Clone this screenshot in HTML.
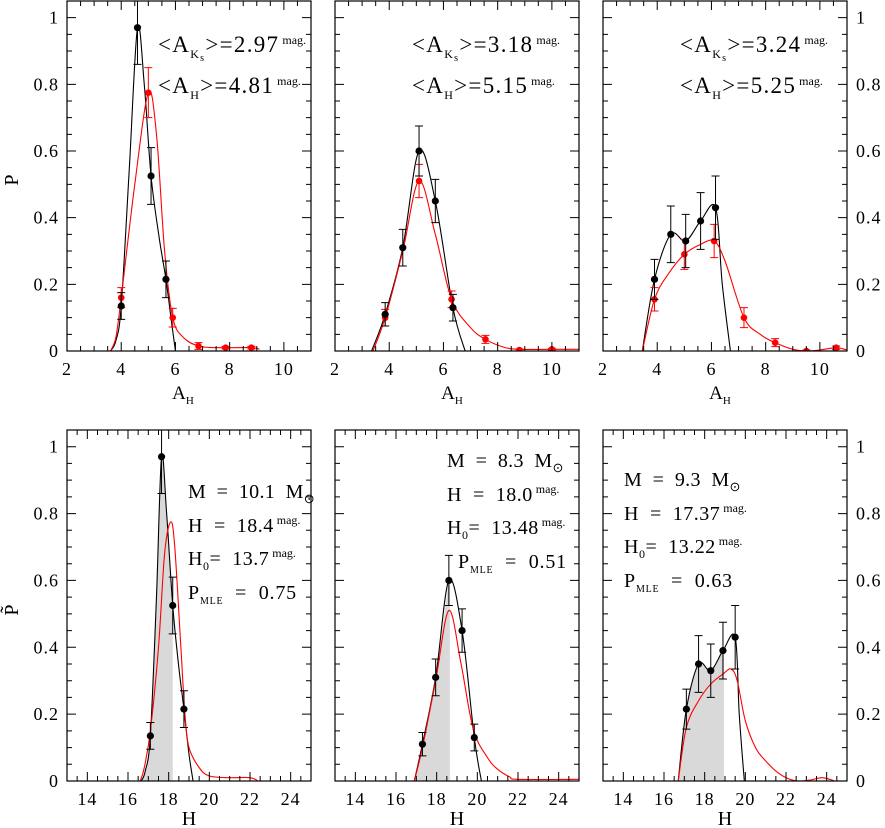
<!DOCTYPE html>
<html><head><meta charset="utf-8"><style>
body{margin:0;background:#fff;}
svg{display:block;font-family:"Liberation Serif",serif;}
</style></head><body>
<svg id="fig" width="885" height="828" viewBox="0 0 885 828" xmlns="http://www.w3.org/2000/svg"></svg>
<script>
// ---- data ----
const p1BlackX=[4.0,4.6,5.1,5.65]; const p1BlackY=[0.135,0.97,0.525,0.215]; const p1BlackE=[0.04,0.11,0.085,0.055];
const p1RedX=[4.0,5.0,5.9,6.85,7.85,8.8]; const p1RedY=[0.16,0.775,0.1,0.015,0.01,0.01]; const p1RedE=[0.03,0.075,0.028,0.01,0.004,0.004];
const p1BlackCurveX=[3.6,3.8,4.0,4.3,4.6,4.85,5.1,5.4,5.65,5.85,6.0]; const p1BlackCurveY=[0,0.03,0.135,0.55,0.97,0.8,0.525,0.34,0.215,0.09,0];
const p1RedCurveX=[3.6,3.8,4.0,4.5,5.0,5.3,5.6,5.9,6.3,6.85,7.5,8.8,9.1]; const p1RedCurveY=[0,0.04,0.16,0.5,0.775,0.65,0.3,0.1,0.04,0.015,0.01,0.01,0.005];

const p2BlackX=[3.85,4.5,5.1,5.7,6.35]; const p2BlackY=[0.11,0.31,0.6,0.45,0.13]; const p2BlackE=[0.035,0.055,0.075,0.065,0.04];
const p2RedX=[3.85,5.1,6.3,7.55,8.8,10.0]; const p2RedY=[0.1,0.51,0.155,0.035,0.003,0.005]; const p2RedE=[0.025,0.05,0.025,0.012,0.003,0.003];
const p2BlackCurveX=[3.35,3.85,4.5,5.1,5.7,6.35,6.8]; const p2BlackCurveY=[0,0.11,0.31,0.6,0.45,0.13,0];
const p2RedCurveX=[3.4,3.85,4.5,5.1,5.7,6.3,7.0,7.55,8.2,8.8,10.0,11.0]; const p2RedCurveY=[0,0.1,0.3,0.51,0.35,0.155,0.07,0.035,0.012,0.005,0.005,0.005];

const p3BlackX=[3.9,4.5,5.05,5.6,6.15]; const p3BlackY=[0.215,0.35,0.33,0.39,0.43]; const p3BlackE=[0.06,0.085,0.08,0.085,0.095];
const p3RedX=[3.9,5.0,6.1,7.2,8.35,9.5,10.6]; const p3RedY=[0.155,0.29,0.33,0.1,0.025,0.0,0.01]; const p3RedE=[0.035,0.045,0.05,0.03,0.012,0.003,0.005];
const p3BlackCurveX=[3.45,3.9,4.5,5.05,5.6,6.15,6.4,6.7]; const p3BlackCurveY=[0,0.215,0.35,0.33,0.39,0.43,0.2,0];
const p3RedCurveX=[3.45,3.9,4.4,5.0,5.6,6.1,6.5,7.2,7.8,8.35,9.0,9.5,10.0,10.6,11.0]; const p3RedCurveY=[0,0.155,0.23,0.29,0.32,0.33,0.27,0.1,0.05,0.025,0.005,0,0.003,0.01,0.003];

const b1BlackX=[17.1,17.65,18.2,18.75]; const b1BlackY=[0.135,0.97,0.525,0.215]; const b1BlackE=[0.04,0.11,0.085,0.055];
const b1BlackCurveX=[16.65,16.85,17.1,17.4,17.65,17.9,18.2,18.5,18.75,19.0,19.2]; const b1BlackCurveY=[0,0.03,0.135,0.55,0.97,0.8,0.525,0.34,0.215,0.08,0];
const b1RedCurveX=[16.6,16.8,17.1,17.5,17.8,18.1,18.3,18.6,18.8,19.0,19.5,20.0,21.0,22.0,22.4]; const b1RedCurveY=[0,0.04,0.15,0.4,0.68,0.775,0.7,0.4,0.2,0.1,0.04,0.015,0.01,0.01,0];
const b1Shade=18.2;

const b2BlackX=[17.3,17.95,18.6,19.25,19.85]; const b2BlackY=[0.11,0.31,0.6,0.45,0.13]; const b2BlackE=[0.035,0.055,0.075,0.065,0.04];
const b2BlackCurveX=[16.9,17.3,17.95,18.6,19.25,19.85,20.2]; const b2BlackCurveY=[0,0.11,0.31,0.6,0.45,0.13,0];
const b2RedCurveX=[16.9,17.3,17.95,18.6,19.2,19.8,20.5,21.0,21.6,22.0,25.0]; const b2RedCurveY=[0,0.1,0.3,0.51,0.35,0.155,0.07,0.035,0.012,0.005,0.005];
const b2Shade=18.65;

const b3BlackX=[17.1,17.7,18.3,18.9,19.5]; const b3BlackY=[0.215,0.35,0.33,0.39,0.43]; const b3BlackE=[0.06,0.085,0.08,0.085,0.095];
const b3BlackCurveX=[16.7,17.1,17.7,18.3,18.9,19.5,19.7,19.95]; const b3BlackCurveY=[0,0.215,0.35,0.33,0.39,0.43,0.2,0];
const b3RedCurveX=[16.7,17.1,17.7,18.3,18.9,19.3,19.6,20.0,20.5,21.0,21.6,22.2,22.7,23.2,23.8,24.4]; const b3RedCurveY=[0,0.16,0.24,0.29,0.32,0.335,0.3,0.18,0.1,0.06,0.025,0.005,0,0.003,0.01,0];
const b3Shade=18.95;

const yTickLabels=["0","0.2","0.4","0.6","0.8","1"];
const topXTicks=["2","4","6","8","10"];
const botXTicks=["14","16","18","20","22","24"];

// ---- drawing ----
const NS="http://www.w3.org/2000/svg";
const svg=document.getElementById('fig');
function mk(tag,attrs,parent){const e=document.createElementNS(NS,tag);for(const k in attrs)e.setAttribute(k,attrs[k]);(parent||svg).appendChild(e);return e;}
function smooth(pts){
  let d="M"+pts[0][0].toFixed(2)+","+pts[0][1].toFixed(2);
  for(let i=0;i<pts.length-1;i++){
    const p0=pts[Math.max(0,i-1)],p1=pts[i],p2=pts[i+1],p3=pts[Math.min(pts.length-1,i+2)];
    const c1=[p1[0]+(p2[0]-p0[0])/6,p1[1]+(p2[1]-p0[1])/6];
    const c2=[p2[0]-(p3[0]-p1[0])/6,p2[1]-(p3[1]-p1[1])/6];
    d+=" C"+c1.map(v=>v.toFixed(2))+" "+c2.map(v=>v.toFixed(2))+" "+p2[0].toFixed(2)+","+p2[1].toFixed(2);
  }
  return d;
}
function panel(cfg){
  const {L,T,R,B,xmin,xmax,ymax}=cfg;
  const sx=v=>L+(v-xmin)/(xmax-xmin)*(R-L);
  const sy=v=>B-v/ymax*(B-T);
  const g=mk('g',{});
  
  
  const clipId='c'+cfg.name;
  const cp=mk('clipPath',{id:clipId},g); mk('rect',{x:L,y:T,width:R-L,height:B-T},cp);
  const plot=mk('g',{'clip-path':'url(#'+clipId+')'},g);
  if(cfg.shade!==undefined){
    const pts=[];const bx=cfg.bcx,by=cfg.bcy;
    for(let i=0;i<bx.length;i++){ if(bx[i]<=cfg.shade) pts.push([sx(bx[i]),sy(by[i])]); }
    let k=bx.findIndex(v=>v>cfg.shade);
    const t=(cfg.shade-bx[k-1])/(bx[k]-bx[k-1]); const ye=by[k-1]+t*(by[k]-by[k-1]);
    pts.push([sx(cfg.shade),sy(ye)]);
    let d=smooth(pts)+" L"+sx(cfg.shade)+","+sy(0)+" L"+sx(bx[0])+","+sy(0)+"Z";
    const s=mk('path',{d:d,fill:'#d9d9d9',stroke:'none'},plot);
    
    
  }
  const bc=mk('path',{d:smooth(cfg.bcx.map((v,i)=>[sx(v),sy(cfg.bcy[i])])),fill:'none',stroke:'#000','stroke-width':1.1},plot);
  
  
  const rc=mk('path',{d:smooth(cfg.rcx.map((v,i)=>[sx(v),sy(cfg.rcy[i])])),fill:'none',stroke:'#f00','stroke-width':1.1},plot);
  
  
  function pts(X,Y,E,col,nm,r){
    for(let i=0;i<X.length;i++){
      const x=sx(X[i]),y=sy(Y[i]),y1=sy(Y[i]+E[i]),y2=sy(Math.max(0,Y[i]-E[i]));
      mk('path',{d:`M${x},${y1}V${y2}M${x-4},${y1}H${x+4}M${x-4},${y2}H${x+4}`,stroke:col,'stroke-width':1,fill:'none'},plot);
      const c=mk('circle',{cx:x,cy:y,r:r,fill:col},plot);
      
      
    }
  }
  if(cfg.rx) pts(cfg.rx,cfg.ry,cfg.re,'#f00','red-point',3.3);
  pts(cfg.bx,cfg.by,cfg.be,'#000','black-point',3.6);
  mk('rect',{x:L,y:T,width:R-L,height:B-T,fill:'none',stroke:'#000','stroke-width':1.2},g);
  let d="";
  for(let v=0;v<=ymax+1e-9;v+=0.05){const y=sy(v);const maj=Math.abs(v/0.2-Math.round(v/0.2))<1e-6;const l=maj?9:5;d+=`M${L},${y}h${l}M${R},${y}h${-l}`;}
  for(let v=xmin;v<=xmax+1e-9;v+=0.5){const x=sx(v);const maj=Math.abs(v/2-Math.round(v/2))<1e-6;const l=maj?9:5;d+=`M${x},${B}v${-l}M${x},${T}v${l}`;}
  mk('path',{d:d,stroke:'#000','stroke-width':1,fill:'none'},g);
  yTickLabels.forEach((t,i)=>{
    const v=i*0.2;
    if(cfg.leftLabels){const e=mk('text',{x:L-8,y:sy(v)+6,'text-anchor':'end','font-size':18,'letter-spacing':1},g);e.textContent=t;}
    if(cfg.rightLabels){const e=mk('text',{x:R+9,y:sy(v)+6,'text-anchor':'start','font-size':18,'letter-spacing':1},g);e.textContent=t;}
  });
  cfg.xt.forEach(t=>{const e=mk('text',{x:sx(+t),y:B+24,'text-anchor':'middle','font-size':18,'letter-spacing':1},g);e.textContent=t;});
  return {sx,sy,g};
}
function txt(html,x,y,size,name,anchor,ls){
  const e=mk('text',{x:x,y:y,'font-size':size,'text-anchor':anchor||'start','letter-spacing':ls||0});
  e.innerHTML=html;
  
  
  return e;
}
const TOP={T:1,B:351,xmin:2,xmax:11,ymax:1.05,xt:topXTicks};
const BOT={T:430,B:781,xmin:13,xmax:25,ymax:1.05,xt:botXTicks};
const cols=[[67,311],[335,579],[603,847]];
panel(Object.assign({name:'panel-top-1',L:cols[0][0],R:cols[0][1],leftLabels:true,bx:p1BlackX,by:p1BlackY,be:p1BlackE,rx:p1RedX,ry:p1RedY,re:p1RedE,bcx:p1BlackCurveX,bcy:p1BlackCurveY,rcx:p1RedCurveX,rcy:p1RedCurveY},TOP));
panel(Object.assign({name:'panel-top-2',L:cols[1][0],R:cols[1][1],bx:p2BlackX,by:p2BlackY,be:p2BlackE,rx:p2RedX,ry:p2RedY,re:p2RedE,bcx:p2BlackCurveX,bcy:p2BlackCurveY,rcx:p2RedCurveX,rcy:p2RedCurveY},TOP));
panel(Object.assign({name:'panel-top-3',L:cols[2][0],R:cols[2][1],rightLabels:true,bx:p3BlackX,by:p3BlackY,be:p3BlackE,rx:p3RedX,ry:p3RedY,re:p3RedE,bcx:p3BlackCurveX,bcy:p3BlackCurveY,rcx:p3RedCurveX,rcy:p3RedCurveY},TOP));
panel(Object.assign({name:'panel-bottom-1',L:cols[0][0],R:cols[0][1],leftLabels:true,bx:b1BlackX,by:b1BlackY,be:b1BlackE,bcx:b1BlackCurveX,bcy:b1BlackCurveY,rcx:b1RedCurveX,rcy:b1RedCurveY,shade:b1Shade},BOT));
panel(Object.assign({name:'panel-bottom-2',L:cols[1][0],R:cols[1][1],bx:b2BlackX,by:b2BlackY,be:b2BlackE,bcx:b2BlackCurveX,bcy:b2BlackCurveY,rcx:b2RedCurveX,rcy:b2RedCurveY,shade:b2Shade},BOT));
panel(Object.assign({name:'panel-bottom-3',L:cols[2][0],R:cols[2][1],rightLabels:true,bx:b3BlackX,by:b3BlackY,be:b3BlackE,bcx:b3BlackCurveX,bcy:b3BlackCurveY,rcx:b3RedCurveX,rcy:b3RedCurveY,shade:b3Shade},BOT));

txt('A<tspan font-size="11" dy="5">H</tspan>',183,399,19,'x-axis-title','middle');
txt('A<tspan font-size="11" dy="5">H</tspan>',452,399,19,'x-axis-title','middle');
txt('A<tspan font-size="11" dy="5">H</tspan>',720,399,19,'x-axis-title','middle');
txt('H',189,825,20,'x-axis-title','middle');
txt('H',457,825,20,'x-axis-title','middle');
txt('H',725,825,20,'x-axis-title','middle');
txt('P',18,180,20,'y-axis-title','middle').setAttribute('transform','rotate(-90 18 180)');
txt('P̃',18,610,20,'y-axis-title','middle').setAttribute('transform','rotate(-90 18 610)');

const topAnn=[["2.97","4.81",158],["3.18","5.15",412],["3.24","5.25",680]];
topAnn.forEach(a=>{
  txt('&lt;A<tspan font-size="12" dy="6">K</tspan><tspan font-size="10" dy="3">s</tspan><tspan dy="-9">&gt;=</tspan>'+a[0]+'<tspan font-size="12" dy="-8" letter-spacing="0"> mag.</tspan>',a[2],52,23,'mean-aks-annotation','start',1.3);
  txt('&lt;A<tspan font-size="12" dy="6">H</tspan><tspan dy="-6">&gt;=</tspan>'+a[1]+'<tspan font-size="12" dy="-8" letter-spacing="0"> mag.</tspan>',a[2],93,23,'mean-ah-annotation','start',1.3);
});
const botAnn=[[188,498,["10.1","18.4","13.7","0.75"]],[447,467,["8.3","18.0","13.48","0.51"]],[624,486,["9.3","17.37","13.22","0.63"]]];
botAnn.forEach((a,i)=>{
  const x=a[0],y=a[1],v=a[2];
  txt('M&#160; = &#160;'+v[0]+'&#160; M<tspan font-size="13" dy="5">⊙</tspan>',x,y,20,'mass-annotation','start',0.3);
  txt('H&#160; = &#160;'+v[1]+'<tspan font-size="12" dy="-8" letter-spacing="0"> mag.</tspan>',x,y+34,20,'h-annotation','start',0.5);
  txt('H<tspan font-size="12" dy="5">0</tspan><tspan dy="-5">= &#160;'+v[2]+'</tspan><tspan font-size="12" dy="-8" letter-spacing="0"> mag.</tspan>',x,y+67,20,'h0-annotation','start',0.5);
  txt('P<tspan font-size="10" dy="5">MLE</tspan><tspan dy="-5"> &#160;= &#160;'+v[3]+'</tspan>',i==1?458:x,y+101,20,'pmle-annotation','start',0.8);
});
</script>
</body></html>
